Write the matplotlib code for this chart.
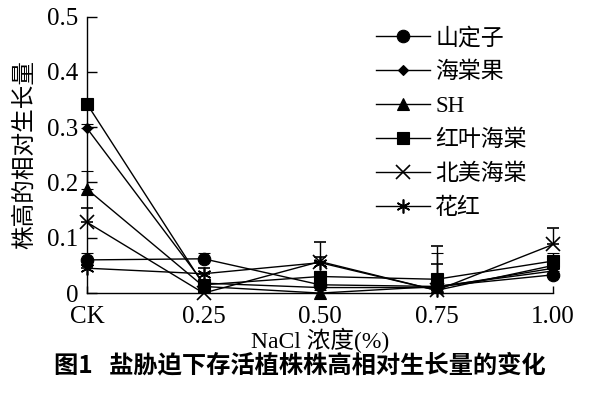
import matplotlib
matplotlib.use("Agg")
import matplotlib.pyplot as plt
import numpy as np

plt.rcParams['font.family'] = ['Liberation Serif', 'Noto Sans CJK SC']
plt.rcParams['mathtext.fontset'] = 'stix'

categories = ['CK', '0.25', '0.50', '0.75', '1.00']
series_names = ['山定子', '海棠果', 'SH', '红叶海棠', '北美海棠', '花红']
shandingzi = [0.060, 0.062, 0.015, 0.012, 0.033]
shandingzi_err = [0.012, 0.010, 0.005, 0.005, 0.010]
haitangguo = [0.298, 0.018, 0.010, 0.010, 0.045]
haitangguo_err = [0.008, 0.006, 0.004, 0.004, 0.008]
sh = [0.188, 0.012, 0.000, 0.012, 0.040]
sh_err = [0.033, 0.005, 0.005, 0.004, 0.008]
hongye = [0.342, 0.015, 0.030, 0.025, 0.058]
hongye_err = [0.008, 0.006, 0.010, 0.047, 0.015]
beimei = [0.128, 0.000, 0.057, 0.005, 0.088]
beimei_err = [0.025, 0.005, 0.036, 0.081, 0.030]
huahong = [0.045, 0.035, 0.055, 0.005, 0.050]
huahong_err = [0.006, 0.010, 0.010, 0.047, 0.010]

values = [shandingzi, haitangguo, sh, hongye, beimei, huahong]
errors = [shandingzi_err, haitangguo_err, sh_err, hongye_err, beimei_err, huahong_err]
markers = ['o', 'D', '^', 's', 'x', (6, 2, 0)]
msizes = [9, 5.5, 8, 9, 10, 10]

fig = plt.figure(figsize=(6, 3.95), dpi=100)
ax = fig.add_axes([0.145, 0.258, 0.777, 0.700])

x = np.arange(len(categories))
for name, v, e, m, ms in zip(series_names, values, errors, markers, msizes):
    yerr = [np.zeros(len(e)), np.array(e)]
    ax.errorbar(x, v, yerr=yerr, color='black', marker=m, markersize=ms,
                markeredgewidth=1.2 if m in ('x', (6, 2, 0)) else 0.8,
                linewidth=1.0, elinewidth=1.0, capsize=4.5, capthick=1.0,
                label=name, clip_on=False)

ax.set_xlim(0, 4)
ax.set_ylim(0, 0.5)
ax.set_xticks(x)
ax.set_xticklabels(categories)
ax.set_yticks([0, 0.1, 0.2, 0.3, 0.4, 0.5])
ax.set_yticklabels(['0', '0.1', '0.2', '0.3', '0.4', '0.5'])
ax.tick_params(axis='both', direction='in', labelsize=18, length=7, width=1.0, pad=6)
ax.tick_params(axis='x', length=5, pad=9)
for s in ['top', 'right']:
    ax.spines[s].set_visible(False)
for s in ['left', 'bottom']:
    ax.spines[s].set_linewidth(1.0)

ax.set_xlabel('NaCl 浓度(%)', fontsize=17, labelpad=0)
ax.set_ylabel('株高的相对生长量', fontsize=17, labelpad=8)

handles, labels = ax.get_legend_handles_labels()
handles = [h[0] for h in handles]
leg = fig.legend(handles, labels, loc='upper left', bbox_to_anchor=(0.607, 0.96),
                 frameon=False, fontsize=16.5, handlelength=2.35, handletextpad=0.25,
                 labelspacing=0.55, borderpad=0, numpoints=1)

fig.text(0.5, 0.075, '图1   盐胁迫下存活植株株高相对生长量的变化', ha='center', va='center',
         fontsize=17.5, fontweight='bold', family=['Noto Sans CJK SC'])

fig.savefig('out.png', dpi=100)
